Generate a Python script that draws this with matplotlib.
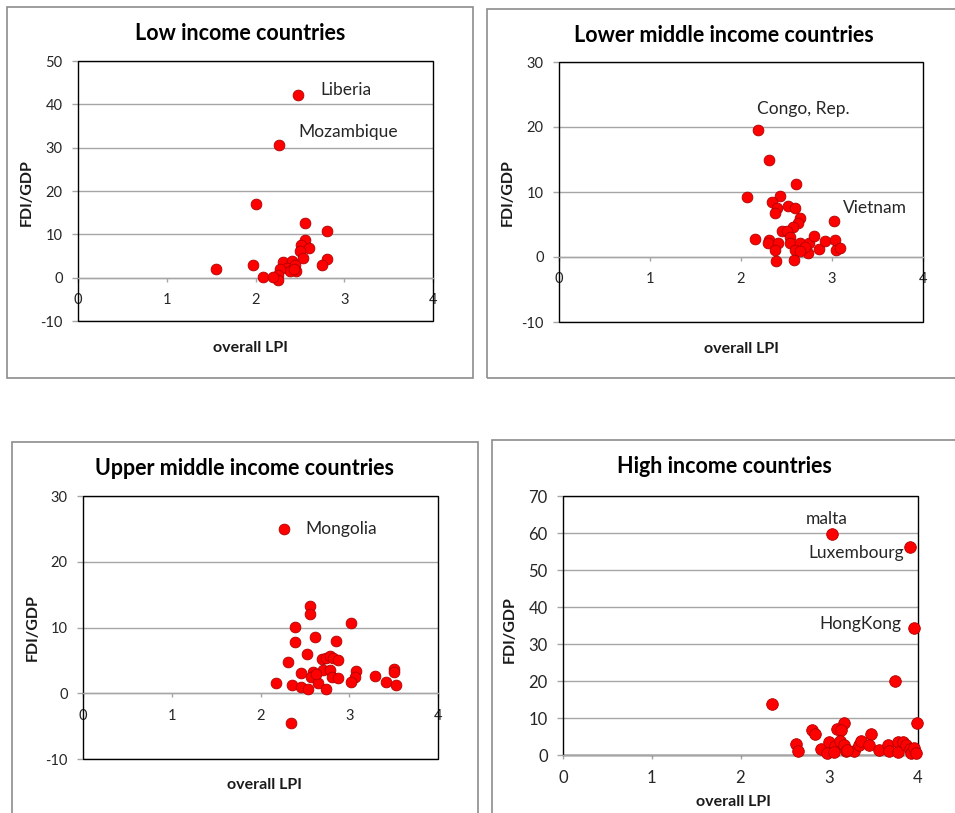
import matplotlib
matplotlib.use("Agg")
import matplotlib.pyplot as plt
from matplotlib.patches import Rectangle

plt.rcParams['font.family'] = ['Lato', 'DejaVu Sans']
plt.rcParams['axes.unicode_minus'] = False

# ---- data ----
low_lpi = [2.48, 2.26, 2.01, 1.56, 1.975, 2.09, 2.56, 2.81, 2.56, 2.51, 2.60, 2.50,
           2.54, 2.81, 2.75, 2.31, 2.41, 2.35, 2.44, 2.46, 2.39, 2.28, 2.43, 2.25,
           2.25, 2.20]
low_fdi = [42.2, 30.5, 17.0, 2.0, 3.0, 0.15, 12.5, 10.8, 8.6, 7.5, 6.8, 6.1,
           4.6, 4.4, 3.0, 3.5, 3.8, 2.3, 3.0, 1.5, 1.5, 2.1, 2.0, 0.5,
           -0.6, 0.1]

lmid_lpi = [2.19, 2.31, 2.60, 2.07, 2.43, 2.34, 2.40, 2.37, 2.52, 2.59, 2.65, 2.63,
            2.57, 3.02, 2.45, 2.50, 2.54, 2.15, 2.31, 2.30, 2.41, 2.54, 2.65, 2.37,
            2.59, 2.74, 2.75, 2.80, 2.86, 2.92, 3.03, 3.04, 3.09, 2.39, 2.58, 2.70,
            2.65]
lmid_fdi = [19.6, 14.9, 11.3, 9.3, 9.4, 8.4, 7.5, 6.7, 7.9, 7.5, 6.0, 5.3,
            4.6, 5.6, 4.0, 4.0, 3.1, 2.7, 2.6, 2.1, 2.2, 2.2, 2.1, 1.1,
            1.0, 0.6, 2.1, 3.3, 1.2, 2.5, 2.6, 1.0, 1.4, -0.6, -0.4, 1.5,
            0.9]

umid_lpi = [2.27, 2.56, 2.56, 2.39, 3.02, 2.39, 2.61, 2.85, 2.52, 2.31, 2.69, 2.74,
            2.78, 2.82, 2.87, 2.46, 2.59, 2.57, 2.70, 2.78, 2.80, 2.87, 2.65, 3.08,
            3.07, 3.02, 3.29, 3.41, 3.50, 3.50, 3.53, 2.17, 2.35, 2.46, 2.54, 2.74,
            2.34, 2.62]
umid_fdi = [25.0, 13.3, 12.0, 10.1, 10.7, 7.8, 8.5, 8.0, 5.9, 4.7, 5.2, 5.4,
            5.7, 5.3, 5.0, 3.1, 3.3, 2.5, 3.6, 3.6, 2.4, 2.3, 1.6, 3.4,
            2.4, 1.7, 2.6, 1.7, 3.7, 3.2, 1.3, 1.5, 1.3, 0.9, 0.6, 0.6,
            -4.5, 3.0]

high_lpi = [3.03, 3.91, 3.96, 3.74, 2.35, 3.99, 3.17, 3.09, 3.13, 2.81, 2.84, 3.47,
            2.62, 2.65, 2.91, 3.00, 3.06, 3.12, 3.17, 3.19, 2.98, 3.28, 3.34, 3.36,
            3.45, 3.56, 3.66, 3.67, 3.77, 3.77, 3.83, 3.87, 3.91, 3.92, 3.96, 3.98,
            3.05, 3.20]
high_fdi = [59.6, 56.3, 34.2, 20.1, 13.8, 8.7, 8.7, 7.0, 6.8, 6.8, 5.6, 5.7,
            2.9, 1.1, 1.6, 3.4, 2.3, 3.7, 2.6, 1.2, 0.6, 1.1, 2.7, 3.8,
            2.7, 1.4, 2.8, 1.0, 3.6, 0.9, 3.5, 2.6, 1.6, 0.5, 1.8, 0.6,
            0.9, 1.4]

W, H = 955, 813
fig = plt.figure(figsize=(W / 100, H / 100), dpi=100)
fig.patch.set_facecolor('white')


def frac(x, y):
    return x / W, 1 - y / H


def box(l, t, r, b):
    return [l / W, 1 - b / H, (r - l) / W, (b - t) / H]


panels = [
    dict(title="Low income countries", x=low_lpi, y=low_fdi, ylim=(-10, 50),
         axes=(78, 61, 433, 321), frame=(7, 7, 473, 378),
         title_xy=(240, 33), xl_xy=(250, 348), yl_xy=(27, 193),
         labels=[("Liberia", 2.73, 43.4), ("Mozambique", 2.48, 33.7)],
         fs=10.5, s=60),
    dict(title="Lower middle income countries", x=lmid_lpi, y=lmid_fdi, ylim=(-10, 30),
         axes=(559, 62, 923, 322), frame=(487, 9, 960, 378),
         title_xy=(724, 35), xl_xy=(741, 349), yl_xy=(508, 193),
         labels=[("Congo, Rep.", 2.18, 22.7), ("Vietnam", 3.12, 7.6)],
         fs=10.5, s=60),
    dict(title="Upper middle income countries", x=umid_lpi, y=umid_fdi, ylim=(-10, 30),
         axes=(83, 496, 438, 759), frame=(12, 442, 478, 820),
         title_xy=(244, 468), xl_xy=(264, 785), yl_xy=(33, 628),
         labels=[("Mongolia", 2.51, 25.0)],
         fs=10.5, s=60),
    dict(title="High income countries", x=high_lpi, y=high_fdi, ylim=(0, 70),
         axes=(563, 496, 918, 755), frame=(492, 440, 960, 820),
         title_xy=(724, 466), xl_xy=(733, 802), yl_xy=(510, 630),
         labels=[("malta", 2.73, 63.7), ("Luxembourg", 2.76, 54.5),
                 ("HongKong", 2.89, 35.4)],
         fs=12, s=70),
]

for p in panels:
    fl, ft, fr, fb = p['frame']
    fig.patches.append(Rectangle((fl / W, 1 - fb / H), (fr - fl) / W, (fb - ft) / H,
                                 transform=fig.transFigure, fill=False,
                                 edgecolor='#8c8c8c', lw=1.2))

    ax = fig.add_axes(box(*p['axes']))
    ax.set_xlim(0, 4)
    ax.set_ylim(*p['ylim'])
    ax.set_xticks([0, 1, 2, 3, 4])
    ax.set_yticks(range(p['ylim'][0], p['ylim'][1] + 1, 10))
    ax.yaxis.grid(True, color='#a6a6a6', lw=1)
    ax.set_axisbelow(True)

    for side in ['top', 'right', 'left']:
        ax.spines[side].set_visible(False)
    ax.spines['bottom'].set_position(('data', 0))
    ax.spines['bottom'].set_color('#a6a6a6')
    ax.spines['bottom'].set_linewidth(1)
    ax.add_patch(Rectangle((0, 0), 1, 1, transform=ax.transAxes, fill=False,
                           edgecolor='black', lw=1, clip_on=False, zorder=1))

    ax.tick_params(axis='x', direction='out', length=3, width=1, color='#a6a6a6',
                   pad=8, labelsize=p['fs'], labelcolor='#262626')
    ax.tick_params(axis='y', direction='out', length=4, width=1, color='#a6a6a6',
                   pad=7, labelsize=p['fs'], labelcolor='#262626')

    ax.scatter(p['x'], p['y'], s=p['s'], color='#ff0000', edgecolor='#b00000',
               linewidth=0.6, zorder=3, clip_on=False)

    for name, tx, ty in p['labels']:
        ax.text(tx, ty, name, fontsize=12.5, color='#262626', ha='left', va='center')

    fig.text(*frac(*p['title_xy']), p['title'], fontsize=15.5, fontweight='bold',
             ha='center', va='center', color='black')
    fig.text(*frac(*p['xl_xy']), "overall LPI", fontsize=11.5, fontweight='bold',
             ha='center', va='center', color='#1a1a1a')
    fig.text(*frac(*p['yl_xy']), "FDI/GDP", fontsize=11.5, fontweight='bold',
             ha='center', va='center', rotation=90, color='#1a1a1a')

fig.savefig("out.png", dpi=100)
